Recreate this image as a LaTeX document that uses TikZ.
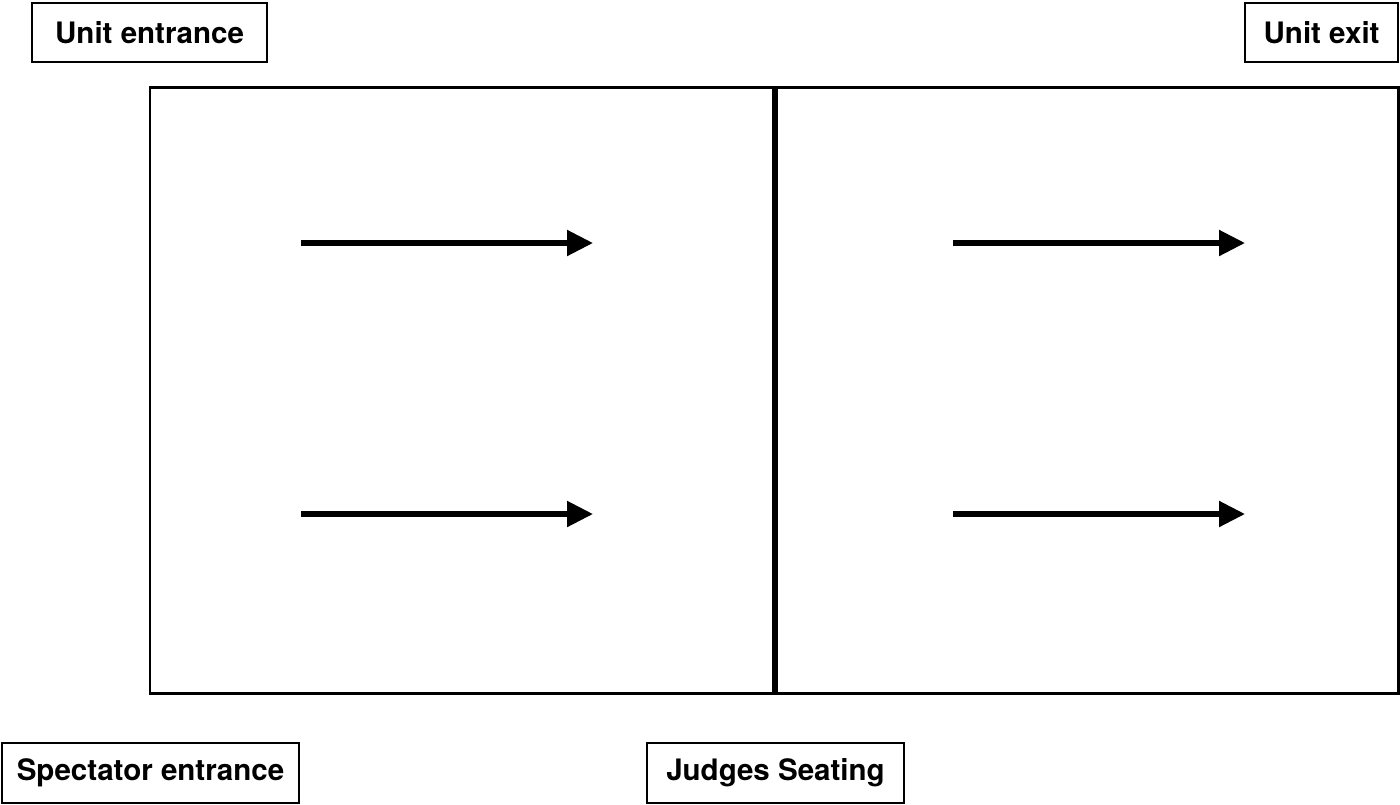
\documentclass[tikz,border=0pt]{standalone}
\usepackage{fontspec}
\setmainfont{TeX Gyre Heros}
\usepackage{tikz}
\usetikzlibrary{arrows.meta,positioning,calc}

\tikzset{
    signbox/.style={draw, line width=0.8pt, inner sep=0pt, align=center,
        minimum height=0.59cm, font=\fontsize{8.4}{10}\selectfont\bfseries},
    flow/.style={line width=1.5pt, -{Triangle[length=0.26cm, width=0.25cm]}}
}

\begin{document}
\begin{tikzpicture}
    \useasboundingbox (0, 0) rectangle (14, 8.04);

    % Entrance and exit signs
    \node[signbox, minimum width=2.35cm] (unitin) at (1.495, 7.715) {Unit entrance};
    \node[signbox, minimum width=1.53cm] (unitout) at (13.215, 7.715) {Unit exit};
    \node[signbox, minimum width=2.97cm, minimum height=0.6cm] (specin) at (1.505, 0.31) {Spectator entrance};
    \node[signbox, minimum width=2.57cm, minimum height=0.6cm] (judges) at (7.755, 0.31) {Judges Seating};

    % Floor with centre line
    \draw[line width=0.85pt] (1.50, 1.11) rectangle (13.98, 7.17);
    \draw[line width=1.5pt] (7.75, 7.17) -- (7.75, 1.11);

    % Direction of travel
    \coordinate (a1) at (3.01, 5.61);
    \coordinate (b1) at (5.93, 5.61);
    \coordinate (a2) at (3.01, 2.90);
    \coordinate (b2) at (5.93, 2.90);
    \coordinate (a3) at (9.53, 5.61);
    \coordinate (b3) at (12.45, 5.61);
    \coordinate (a4) at (9.53, 2.90);
    \coordinate (b4) at (12.45, 2.90);
    \draw[flow] (a1) -- (b1);
    \draw[flow] (a2) -- (b2);
    \draw[flow] (a3) -- (b3);
    \draw[flow] (a4) -- (b4);
\end{tikzpicture}
\end{document}
